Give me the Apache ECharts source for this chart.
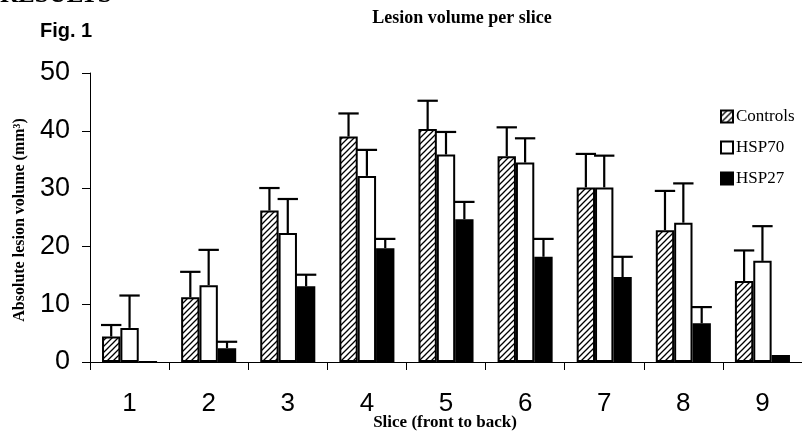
<!DOCTYPE html>
<html>
<head>
<meta charset="utf-8">
<script src="https://cdn.jsdelivr.net/npm/echarts@6/dist/echarts.min.js"></script>
<style>html,body{margin:0;padding:0;background:#fff}#chart{width:802px;height:432px}</style>
</head>
<body>
<div id="chart"></div>
<script>
const categories = ['1','2','3','4','5','6','7','8','9'];
const seriesNames = ['Controls','HSP70','HSP27'];
const controls    = [4.4, 11.2, 26.2, 39.0, 40.3, 35.6, 30.2, 22.8, 14.0];
const controlsErr = [6.4, 15.6, 30.1, 43.0, 45.2, 40.6, 36.0, 29.6, 19.3];
const hsp70       = [5.9, 13.3, 22.3, 32.2, 35.9, 34.5, 30.2, 24.1, 17.5];
const hsp70Err    = [11.5, 19.4, 28.2, 36.7, 39.8, 38.7, 35.7, 30.9, 23.5];
const hsp27       = [0, 2.4, 13.1, 19.7, 24.7, 18.2, 14.7, 6.7, 1.2];
const hsp27Err    = [null, 3.5, 15.1, 21.3, 27.7, 21.3, 18.2, 9.5, null];
const yTicks = [0, 10, 20, 30, 40, 50];

function makeHatch(){
  const c = document.createElement('canvas');
  c.width = c.height = 6;
  const g = c.getContext('2d');
  g.fillStyle = '#fff'; g.fillRect(0,0,6,6);
  g.strokeStyle = '#000'; g.lineWidth = 1.3;
  g.beginPath();
  g.moveTo(0,6); g.lineTo(6,0);
  g.moveTo(-3,3); g.lineTo(3,-3);
  g.moveTo(3,9); g.lineTo(9,3);
  g.stroke();
  return c;
}
const hatch = {image: makeHatch(), repeat: 'repeat'};

const BW = 0.232;
const values = [controls, hsp70, hsp27];
const errs = [controlsErr, hsp70Err, hsp27Err];
const fills = [hatch, '#fff', '#000'];

const errData = [];
errs.forEach((arr, s) => arr.forEach((e, i) => {
  if (e != null) errData.push([i, values[s][i], e, s]);
}));

const chart = echarts.init(document.getElementById('chart'), null, {renderer: 'canvas'});
const serif = '"Liberation Serif", "Times New Roman", serif';
const sans = '"Liberation Sans", Arial, sans-serif';

chart.setOption({
  animation: false,
  backgroundColor: '#fff',
  grid: {left: 90, right: -5, top: 73, bottom: 70, containLabel: false},
  legend: {
    data: seriesNames,
    orient: 'vertical',
    left: 720, top: 108, padding: 0,
    itemWidth: 12, itemHeight: 12, itemGap: 14,
    icon: 'rect',
    textStyle: {fontFamily: serif, fontSize: 17, color: '#000', padding: [0,0,0,-2]}
  },
  xAxis: {
    type: 'category',
    data: categories,
    axisLine: {lineStyle: {color: '#000', width: 1}},
    axisTick: {show: true, length: 8, lineStyle: {color: '#000'}},
    axisLabel: {fontFamily: sans, fontSize: 26, color: '#000', margin: 29},
    splitLine: {show: false}
  },
  yAxis: {
    type: 'value',
    min: yTicks[0], max: yTicks[yTicks.length-1], interval: 10,
    axisLine: {show: true, lineStyle: {color: '#000', width: 1}},
    axisTick: {show: true, length: 8, lineStyle: {color: '#000'}},
    axisLabel: {fontFamily: sans, fontSize: 27, color: '#000', margin: 20},
    splitLine: {show: false}
  },
  series: seriesNames.map((name, s) => ({
    name: name,
    type: 'bar',
    data: values[s],
    barWidth: (BW*100) + '%',
    barGap: '0%',
    itemStyle: {color: fills[s], borderColor: '#000', borderWidth: 2},
    z: 2
  })).concat([{
    type: 'custom',
    data: errData,
    encode: {x: 0, y: [1, 2]},
    z: 3,
    silent: true,
    renderItem: function(params, api){
      const cat = api.value(0), v = api.value(1), e = api.value(2), s = api.value(3);
      const band = api.size([1, 0])[0];
      const bw = band * BW;
      const cx = api.coord([cat, 0])[0] + (s - 1) * bw;
      const yTop = api.coord([cat, e])[1];
      const yBar = api.coord([cat, v])[1];
      const half = bw / 2 + 1;
      return {type: 'group', children: [
        {type: 'line', shape: {x1: cx, y1: yBar, x2: cx, y2: yTop}, style: {stroke: '#000', lineWidth: 2.2}},
        {type: 'line', shape: {x1: cx - half, y1: yTop, x2: cx + half, y2: yTop}, style: {stroke: '#000', lineWidth: 2.2}}
      ]};
    }
  }]),
  graphic: [
    {type: 'text', left: 0, top: -17, style: {text: 'RESULTS', font: 'bold 25px ' + serif, fill: '#000'}},
    {type: 'text', left: 40, top: 21, style: {text: 'Fig. 1', font: 'bold 20px ' + sans, fill: '#000'}},
    {type: 'text', x: 462, y: 18, style: {text: 'Lesion volume per slice', font: 'bold 18px ' + serif, fill: '#000', align: 'center', verticalAlign: 'middle'}},
    {type: 'text', x: 445, y: 423, style: {text: 'Slice (front to back)', font: 'bold 17px ' + serif, fill: '#000', align: 'center', verticalAlign: 'middle'}},
    {type: 'text', x: 20, y: 220, rotation: Math.PI/2, style: {text: 'Absolute lesion volume (mm³)', font: 'bold 16px ' + serif, fill: '#000', align: 'center', verticalAlign: 'middle'}}
  ]
});
</script>
</body>
</html>
